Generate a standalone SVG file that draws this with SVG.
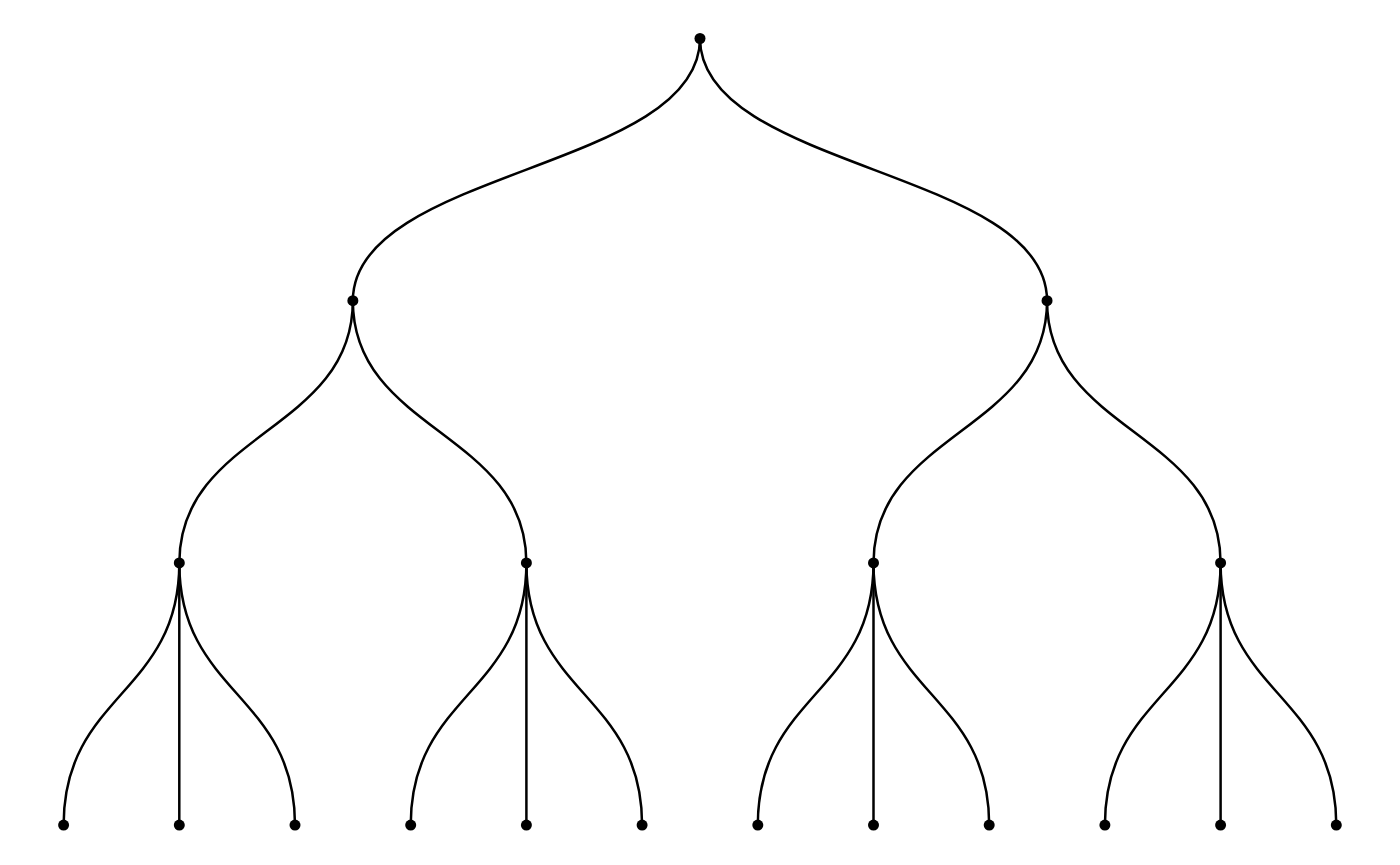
<svg xmlns="http://www.w3.org/2000/svg" width="1400" height="865" viewBox="0 0 1400 865">
<style>
.link{fill:none;stroke:#000;stroke-width:2.5}
.node circle{fill:#000}
</style>
<rect width="1400" height="865" fill="#fff"/>
<g id="links">
<path class="link" d="M700,38.5C700,169.6 352.85,169.6 352.85,300.7"/>
<path class="link" d="M700,38.5C700,169.6 1047.05,169.6 1047.05,300.7"/>
<path class="link" d="M352.85,300.7C352.85,431.8 179.3,431.8 179.3,562.9"/>
<path class="link" d="M352.85,300.7C352.85,431.8 526.4,431.8 526.4,562.9"/>
<path class="link" d="M1047.05,300.7C1047.05,431.8 873.5,431.8 873.5,562.9"/>
<path class="link" d="M1047.05,300.7C1047.05,431.8 1220.6,431.8 1220.6,562.9"/>
<path class="link" d="M179.3,562.9C179.3,694 63.6,694 63.6,825.1"/>
<path class="link" d="M179.3,562.9C179.3,694 179.3,694 179.3,825.1"/>
<path class="link" d="M179.3,562.9C179.3,694 295,694 295,825.1"/>
<path class="link" d="M526.4,562.9C526.4,694 410.7,694 410.7,825.1"/>
<path class="link" d="M526.4,562.9C526.4,694 526.4,694 526.4,825.1"/>
<path class="link" d="M526.4,562.9C526.4,694 642.1,694 642.1,825.1"/>
<path class="link" d="M873.5,562.9C873.5,694 757.8,694 757.8,825.1"/>
<path class="link" d="M873.5,562.9C873.5,694 873.5,694 873.5,825.1"/>
<path class="link" d="M873.5,562.9C873.5,694 989.2,694 989.2,825.1"/>
<path class="link" d="M1220.6,562.9C1220.6,694 1104.9,694 1104.9,825.1"/>
<path class="link" d="M1220.6,562.9C1220.6,694 1220.6,694 1220.6,825.1"/>
<path class="link" d="M1220.6,562.9C1220.6,694 1336.3,694 1336.3,825.1"/>
</g>
<g id="n0" class="node"><circle cx="700" cy="38.5" r="5.5"/></g>
<g id="n1" class="node"><circle cx="352.85" cy="300.7" r="5.5"/></g>
<g id="n2" class="node"><circle cx="1047.05" cy="300.7" r="5.5"/></g>
<g id="n3" class="node"><circle cx="179.3" cy="562.9" r="5.5"/></g>
<g id="n4" class="node"><circle cx="526.4" cy="562.9" r="5.5"/></g>
<g id="n5" class="node"><circle cx="873.5" cy="562.9" r="5.5"/></g>
<g id="n6" class="node"><circle cx="1220.6" cy="562.9" r="5.5"/></g>
<g id="n7" class="node"><circle cx="63.6" cy="825.1" r="5.5"/></g>
<g id="n8" class="node"><circle cx="179.3" cy="825.1" r="5.5"/></g>
<g id="n9" class="node"><circle cx="295" cy="825.1" r="5.5"/></g>
<g id="n10" class="node"><circle cx="410.7" cy="825.1" r="5.5"/></g>
<g id="n11" class="node"><circle cx="526.4" cy="825.1" r="5.5"/></g>
<g id="n12" class="node"><circle cx="642.1" cy="825.1" r="5.5"/></g>
<g id="n13" class="node"><circle cx="757.8" cy="825.1" r="5.5"/></g>
<g id="n14" class="node"><circle cx="873.5" cy="825.1" r="5.5"/></g>
<g id="n15" class="node"><circle cx="989.2" cy="825.1" r="5.5"/></g>
<g id="n16" class="node"><circle cx="1104.9" cy="825.1" r="5.5"/></g>
<g id="n17" class="node"><circle cx="1220.6" cy="825.1" r="5.5"/></g>
<g id="n18" class="node"><circle cx="1336.3" cy="825.1" r="5.5"/></g>
</svg>
